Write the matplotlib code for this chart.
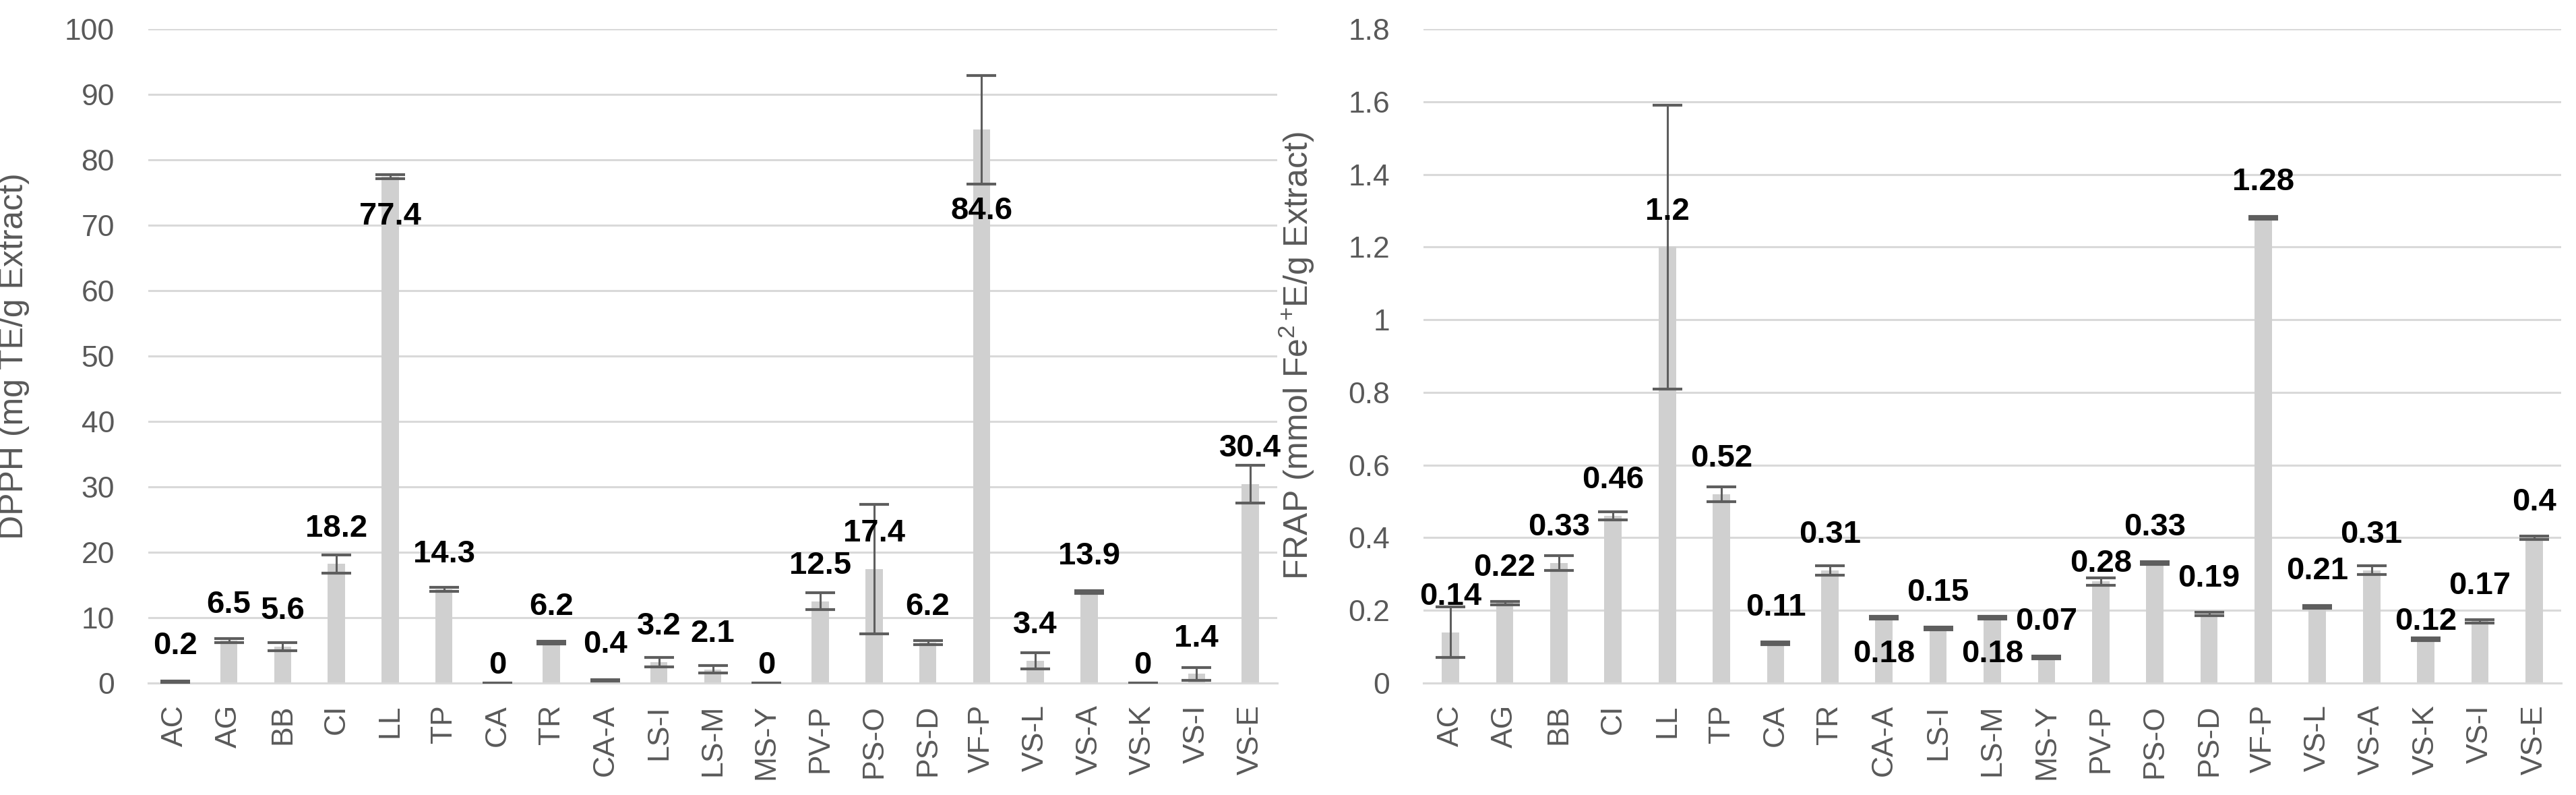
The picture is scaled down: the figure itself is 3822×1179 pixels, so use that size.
import matplotlib
matplotlib.use("Agg")
import matplotlib.pyplot as plt
import numpy as np

# data
samples = ["AC", "AG", "BB", "CI", "LL", "TP", "CA", "TR", "CA-A", "LS-I", "LS-M",
           "MS-Y", "PV-P", "PS-O", "PS-D", "VF-P", "VS-L", "VS-A", "VS-K", "VS-I", "VS-E"]

dpph = [0.2, 6.5, 5.6, 18.2, 77.4, 14.3, 0, 6.2, 0.4, 3.2, 2.1,
        0, 12.5, 17.4, 6.2, 84.6, 3.4, 13.9, 0, 1.4, 30.4]
dpph_err = [0.1, 0.3, 0.6, 1.4, 0.3, 0.3, 0, 0.2, 0.1, 0.7, 0.6,
            0, 1.3, 9.9, 0.3, 8.3, 1.2, 0.2, 0, 1.0, 2.9]

frap = [0.14, 0.22, 0.33, 0.46, 1.2, 0.52, 0.11, 0.31, 0.18, 0.15, 0.18,
        0.07, 0.28, 0.33, 0.19, 1.28, 0.21, 0.31, 0.12, 0.17, 0.4]
frap_err = [0.069, 0.004, 0.02, 0.011, 0.39, 0.02, 0.004, 0.013, 0.004, 0.004, 0.004,
            0.004, 0.01, 0.004, 0.004, 0.004, 0.004, 0.012, 0.004, 0.004, 0.004]

dpph_ticks = [0, 10, 20, 30, 40, 50, 60, 70, 80, 90, 100]
frap_ticks = [0, 0.2, 0.4, 0.6, 0.8, 1, 1.2, 1.4, 1.6, 1.8]

# label offsets (points) where the reference moved a label
dpph_label_off = {"CA": 19, "MS-Y": 19, "VS-K": 19, "LL": -42, "VF-P": -87}
frap_label_off = {"CA-A": -39, "LS-M": -39, "PV-P": 19, "VS-K": 19}

plt.rcParams['font.family'] = ['Liberation Sans', 'DejaVu Sans']
plt.rcParams['mathtext.fontset'] = 'custom'
plt.rcParams['mathtext.rm'] = 'Liberation Sans'
plt.rcParams['mathtext.it'] = 'Liberation Sans:italic'
plt.rcParams['mathtext.bf'] = 'Liberation Sans:bold'

W, H = 3823, 1179
fig = plt.figure(figsize=(W / 100, H / 100), dpi=100)

bar_color = "#d0d0d0"
err_color = "#5e5e5e"
grid_color = "#d9d9d9"
text_gray = "#595959"


def draw(ax, vals, errs, ticks, ylabel, offsets, top):
    x = np.arange(len(samples))
    ax.bar(x, vals, width=0.32, color=bar_color, zorder=2)
    ax.errorbar(x, vals, yerr=errs, fmt="none", ecolor=err_color,
                elinewidth=2.2, capsize=16, capthick=3, zorder=3)
    for xi, name, v in zip(x, samples, vals):
        off = offsets.get(name, 38)
        ax.annotate(f"{v:g}", (xi, v), xytext=(0, off), textcoords="offset points",
                    ha="center", va="center", fontsize=34, fontweight="bold",
                    color="black", zorder=4)
    ax.set_xlim(-0.5, len(samples) - 0.5)
    ax.set_ylim(0, top)
    ax.set_yticks(ticks)
    ax.set_yticklabels([f"{t:g}" for t in ticks])
    ax.set_xticks(x)
    ax.set_xticklabels(samples, rotation=90)
    ax.yaxis.grid(True, color=grid_color, linewidth=2.2, zorder=0)
    ax.set_axisbelow(True)
    for s in ["top", "right", "left"]:
        ax.spines[s].set_visible(False)
    ax.spines["bottom"].set_color(grid_color)
    ax.spines["bottom"].set_linewidth(2.2)
    ax.tick_params(axis="y", length=0, pad=36, labelsize=32, labelcolor=text_gray)
    ax.tick_params(axis="x", length=0, pad=23, labelsize=32, labelcolor=text_gray)
    ax.set_ylabel(ylabel, fontsize=36, color=text_gray)


bottom = (H - 1013) / H
height = (1013 - 43) / H

ax1 = fig.add_axes([220 / W, bottom, (1895 - 220) / W, height])
draw(ax1, dpph, dpph_err, dpph_ticks, "DPPH (mg TE/g Extract)", dpph_label_off, 100)
ax1.yaxis.set_label_coords(-0.105, 0.5)

ax2 = fig.add_axes([2112 / W, bottom, (3800 - 2112) / W, height])
draw(ax2, frap, frap_err, frap_ticks, r"FRAP (mmol Fe$^{2+}\!$E/g Extract)", frap_label_off, 1.8)
ax2.yaxis.set_label_coords(-0.094, 0.5)

fig.savefig("out.png", dpi=100, facecolor="white")
